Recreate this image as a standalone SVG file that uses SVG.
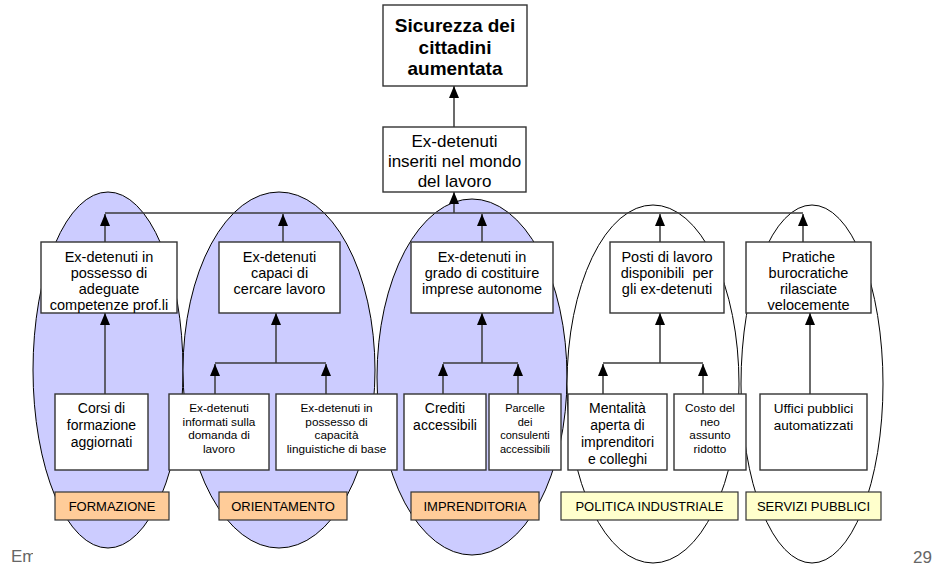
<svg xmlns="http://www.w3.org/2000/svg" width="947" height="576" viewBox="0 0 947 576">
<defs>
<style>
.ell{stroke:#000;stroke-width:1}
.blue{fill:#CCCCFF}
.white{fill:#FFFFFF}
.box{fill:#FFFFFF;stroke:#333;stroke-width:1.4}
.lab{stroke:#333;stroke-width:1.2}
.org{fill:#FFCC99}
.yel{fill:#FFFFCC}
.con{stroke:#3a3a3a;stroke-width:1.5;fill:none}
text{font-family:"Liberation Sans",Arial,sans-serif;fill:#000;text-anchor:middle}
.t19{font-size:19px;font-weight:bold}
.t17{font-size:17px}
.t145{font-size:14.5px}
.t14{font-size:14px}
.t13{font-size:13.5px}
.t12{font-size:11.8px}
.t11{font-size:11px}
.tl{font-size:13px}
.foot{font-size:17px;fill:#666;text-anchor:start}
</style>
<marker id="up" markerWidth="10" markerHeight="12" viewBox="0 0 10 12" refX="5" refY="0" orient="0" markerUnits="userSpaceOnUse">
<path d="M5,0 L10,12 L0,12 Z" fill="#000"/>
</marker>
<clipPath id="fc"><rect x="0" y="540" width="33" height="30"/></clipPath>
</defs>

<g id="areas">
<ellipse class="ell blue" cx="108" cy="370" rx="75" ry="178"/>
<ellipse class="ell blue" cx="279" cy="370" rx="96" ry="178"/>
<ellipse class="ell blue" cx="472" cy="377" rx="95" ry="178"/>
<ellipse class="ell white" cx="653" cy="384" rx="86" ry="179"/>
<ellipse class="ell white" cx="812" cy="384" rx="71" ry="179"/>
</g>

<g id="connectors">
<line class="con" x1="454" y1="127" x2="454" y2="86" marker-end="url(#up)"/>
<line class="con" x1="454" y1="213" x2="454" y2="192" marker-end="url(#up)"/>
<line class="con" x1="105" y1="213" x2="803" y2="213"/>
<line class="con" x1="105" y1="242" x2="105" y2="214" marker-end="url(#up)"/>
<line class="con" x1="283" y1="242" x2="283" y2="214" marker-end="url(#up)"/>
<line class="con" x1="482" y1="242" x2="482" y2="214" marker-end="url(#up)"/>
<line class="con" x1="660" y1="242" x2="660" y2="214" marker-end="url(#up)"/>
<line class="con" x1="803" y1="242" x2="803" y2="214" marker-end="url(#up)"/>
<line class="con" x1="105" y1="394" x2="105" y2="313" marker-end="url(#up)"/>
<line class="con" x1="215" y1="363" x2="326" y2="363"/>
<line class="con" x1="276" y1="363" x2="276" y2="313" marker-end="url(#up)"/>
<line class="con" x1="215" y1="394" x2="215" y2="364" marker-end="url(#up)"/>
<line class="con" x1="326" y1="394" x2="326" y2="364" marker-end="url(#up)"/>
<line class="con" x1="443" y1="363" x2="518" y2="363"/>
<line class="con" x1="482" y1="363" x2="482" y2="313" marker-end="url(#up)"/>
<line class="con" x1="443" y1="394" x2="443" y2="364" marker-end="url(#up)"/>
<line class="con" x1="518" y1="394" x2="518" y2="364" marker-end="url(#up)"/>
<line class="con" x1="603" y1="363" x2="703" y2="363"/>
<line class="con" x1="660" y1="363" x2="660" y2="313" marker-end="url(#up)"/>
<line class="con" x1="603" y1="394" x2="603" y2="364" marker-end="url(#up)"/>
<line class="con" x1="703" y1="394" x2="703" y2="364" marker-end="url(#up)"/>
<line class="con" x1="810" y1="394" x2="810" y2="313" marker-end="url(#up)"/>
</g>

<g id="n-sicurezza">
<rect class="box" x="383" y="5" width="144" height="81"/>
<text class="t19" x="455" y="32">Sicurezza dei</text>
<text class="t19" x="455" y="54">cittadini</text>
<text class="t19" x="455" y="75">aumentata</text>
</g>

<g id="n-inseriti">
<rect class="box" x="383" y="127" width="143" height="65"/>
<text class="t17" x="454.5" y="147">Ex-detenuti</text>
<text class="t17" x="454.5" y="167">inseriti nel mondo</text>
<text class="t17" x="454.5" y="187">del lavoro</text>
</g>

<g id="n-competenze">
<rect class="box" x="41" y="242" width="136" height="71"/>
<text class="t145" x="109" y="262">Ex-detenuti in</text>
<text class="t145" x="109" y="278">possesso di</text>
<text class="t145" x="109" y="294">adeguate</text>
<text class="t145" x="109" y="310">competenze prof.li</text>
</g>

<g id="n-capaci">
<rect class="box" x="219" y="242" width="121" height="71"/>
<text class="t145" x="279.5" y="262">Ex-detenuti</text>
<text class="t145" x="279.5" y="278">capaci di</text>
<text class="t145" x="279.5" y="294">cercare lavoro</text>
</g>

<g id="n-imprese">
<rect class="box" x="411" y="242" width="142" height="71"/>
<text class="t145" x="482" y="262">Ex-detenuti in</text>
<text class="t145" x="482" y="278">grado di costituire</text>
<text class="t145" x="482" y="294">imprese autonome</text>
</g>

<g id="n-posti">
<rect class="box" x="610" y="242" width="114" height="71"/>
<text class="t145" x="667" y="262">Posti di lavoro</text>
<text class="t145" x="667" y="278" xml:space="preserve">disponibili  per</text>
<text class="t145" x="667" y="294">gli ex-detenuti</text>
</g>

<g id="n-pratiche">
<rect class="box" x="746" y="242" width="125" height="71"/>
<text class="t145" x="808.5" y="262">Pratiche</text>
<text class="t145" x="808.5" y="278">burocratiche</text>
<text class="t145" x="808.5" y="294">rilasciate</text>
<text class="t145" x="808.5" y="310">velocemente</text>
</g>

<g id="n-corsi">
<rect class="box" x="55" y="394" width="93" height="76"/>
<text class="t14" x="101.5" y="413">Corsi di</text>
<text class="t14" x="101.5" y="430">formazione</text>
<text class="t14" x="101.5" y="447">aggiornati</text>
</g>

<g id="n-informati">
<rect class="box" x="169" y="394" width="100" height="76"/>
<text class="t12" x="219" y="412">Ex-detenuti</text>
<text class="t12" x="219" y="425.5">informati sulla</text>
<text class="t12" x="219" y="439">domanda di</text>
<text class="t12" x="219" y="452.5">lavoro</text>
</g>

<g id="n-linguistiche">
<rect class="box" x="276" y="394" width="121" height="76"/>
<text class="t12" x="336.5" y="412">Ex-detenuti in</text>
<text class="t12" x="336.5" y="425.5">possesso di</text>
<text class="t12" x="336.5" y="439">capacità</text>
<text class="t12" x="336.5" y="452.5">linguistiche di base</text>
</g>

<g id="n-crediti">
<rect class="box" x="404" y="394" width="82" height="76"/>
<text class="t14" x="445" y="413">Crediti</text>
<text class="t14" x="445" y="430">accessibili</text>
</g>

<g id="n-parcelle">
<rect class="box" x="489" y="394" width="72" height="76"/>
<text class="t11" x="525" y="412">Parcelle</text>
<text class="t11" x="525" y="425.5">dei</text>
<text class="t11" x="525" y="439">consulenti</text>
<text class="t11" x="525" y="452.5">accessibili</text>
</g>

<g id="n-mentalita">
<rect class="box" x="568" y="394" width="99" height="76"/>
<text class="t14" x="617.5" y="413">Mentalità</text>
<text class="t14" x="617.5" y="430">aperta di</text>
<text class="t14" x="617.5" y="447">imprenditori</text>
<text class="t14" x="617.5" y="464">e colleghi</text>
</g>

<g id="n-costo">
<rect class="box" x="674" y="394" width="72" height="76"/>
<text class="t12" x="710" y="412">Costo del</text>
<text class="t12" x="710" y="425.5">neo</text>
<text class="t12" x="710" y="439">assunto</text>
<text class="t12" x="710" y="452.5">ridotto</text>
</g>

<g id="n-uffici">
<rect class="box" x="760" y="394" width="107" height="76"/>
<text class="t13" x="813.5" y="413">Uffici pubblici</text>
<text class="t13" x="813.5" y="430">automatizzati</text>
</g>

<g id="l-formazione">
<rect class="lab org" x="55" y="492" width="114" height="28"/>
<text class="tl" x="112" y="511">FORMAZIONE</text>
</g>
<g id="l-orientamento">
<rect class="lab org" x="219" y="492" width="128" height="28"/>
<text class="tl" x="283" y="511">ORIENTAMENTO</text>
</g>
<g id="l-imprenditoria">
<rect class="lab org" x="411" y="492" width="128" height="28"/>
<text class="tl" x="475" y="511">IMPRENDITORIA</text>
</g>
<g id="l-politica">
<rect class="lab yel" x="561" y="492" width="177" height="28"/>
<text class="tl" x="649.5" y="511">POLITICA INDUSTRIALE</text>
</g>
<g id="l-servizi">
<rect class="lab yel" x="746" y="492" width="135" height="28"/>
<text class="tl" x="813.5" y="511">SERVIZI PUBBLICI</text>
</g>

<g id="footer">
<text class="foot" x="11" y="562" clip-path="url(#fc)">Em</text>
<text class="foot" x="913" y="563">29</text>
</g>
</svg>
